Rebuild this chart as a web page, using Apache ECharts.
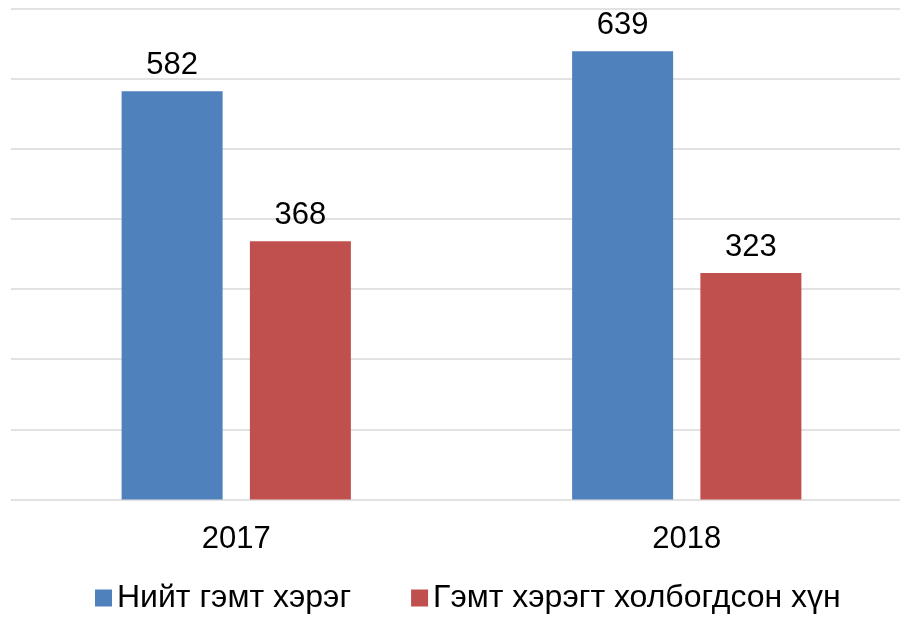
<!DOCTYPE html>
<html>
<head>
<meta charset="utf-8">
<script src="https://cdn.jsdelivr.net/npm/echarts@6/dist/echarts.min.js"></script>
<style>
  html, body { margin: 0; padding: 0; background: #fff; }
  #chart { width: 900px; height: 617px; }
</style>
</head>
<body>
<div id="chart"></div>
<script>
// data
var years = ['2017', '2018'];
var totalCrimes = [582, 639];
var personsInvolved = [368, 323];
var seriesNames = ['Нийт гэмт хэрэг', 'Гэмт хэрэгт холбогдсон хүн'];

var myChart = echarts.init(document.getElementById('chart'));
var font = 'Liberation Sans, Arial, sans-serif';

var option = {
    animation: false,
    textStyle: { fontFamily: font },
    grid: { left: 11, top: 8.5, right: -12, bottom: 117.5, outerBoundsMode: 'none', containLabel: false },
    legend: {
        data: seriesNames,
        left: 95,
        top: 582,
        padding: 0,
        itemWidth: 17,
        itemHeight: 17,
        itemGap: 60,
        icon: 'rect',
        textStyle: { fontSize: 32, color: '#000', fontFamily: font }
    },
    xAxis: {
        type: 'category',
        data: years,
        axisLine: { show: false },
        axisTick: { show: false },
        axisLabel: { fontSize: 31, color: '#000', margin: 24, fontFamily: font }
    },
    yAxis: {
        type: 'value',
        min: 0,
        max: 700,
        interval: 100,
        axisLabel: { show: false },
        axisLine: { show: false },
        axisTick: { show: false },
        splitLine: { lineStyle: { color: '#D9D9D9', width: 1.5 } }
    },
    series: [
        {
            name: seriesNames[0],
            type: 'bar',
            data: totalCrimes,
            barWidth: 101,
            barGap: '27%',
            itemStyle: { color: '#4F81BD' },
            label: { show: true, position: 'top', distance: 10, fontSize: 31, color: '#000', fontFamily: font }
        },
        {
            name: seriesNames[1],
            type: 'bar',
            data: personsInvolved,
            barWidth: 101,
            itemStyle: { color: '#C0504D' },
            label: { show: true, position: 'top', distance: 10, fontSize: 31, color: '#000', fontFamily: font }
        }
    ]
};
myChart.setOption(option);
</script>
</body>
</html>
